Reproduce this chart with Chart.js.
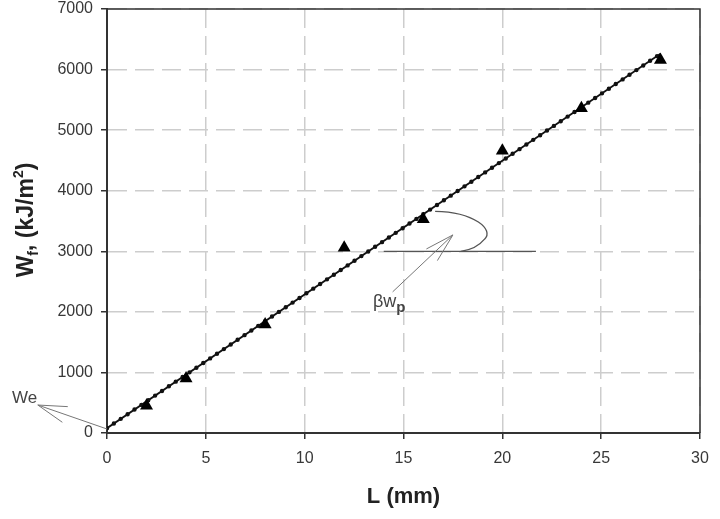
<!DOCTYPE html>
<html>
<head>
<meta charset="utf-8">
<script src="https://cdn.jsdelivr.net/npm/chart.js@4.4.0/dist/chart.umd.min.js"></script>
<style>
  html, body { margin: 0; padding: 0; background: #fff; }
  #wrap { width: 720px; height: 519px; }
</style>
</head>
<body>
<div id="wrap"><canvas id="chart"></canvas></div>
<script>
// measured points: crack length L (mm) vs specific work of fracture
const lengths = [2, 4, 8, 12, 16, 20, 24, 28];
const workValues = [450, 900, 1790, 3060, 3530, 4660, 5360, 6160];

// linear fit end points
const fitX = [0, 28];
const fitY = [80, 6260];

const xTicks = [0, 5, 10, 15, 20, 25, 30];
const yTicks = [0, 1000, 2000, 3000, 4000, 5000, 6000, 7000];

const font = "'Liberation Sans', Arial, sans-serif";
const tickColor = '#383838';

const points = lengths.map((x, i) => ({ x, y: workValues[i] }));
const fitLine = fitX.map((x, i) => ({ x, y: fitY[i] }));

function arrow(ctx, x1, y1, x2, y2, len, spread) {
  // open arrow head at (x2, y2)
  const a = Math.atan2(y1 - y2, x1 - x2);
  ctx.beginPath();
  ctx.moveTo(x1, y1);
  ctx.lineTo(x2, y2);
  ctx.moveTo(x2 + len * Math.cos(a + spread), y2 + len * Math.sin(a + spread));
  ctx.lineTo(x2, y2);
  ctx.lineTo(x2 + len * Math.cos(a - spread), y2 + len * Math.sin(a - spread));
  ctx.stroke();
}

const extras = {
  id: 'extras',
  beforeDatasetsDraw(chart) {
    const { ctx, chartArea: a } = chart;
    ctx.save();
    ctx.strokeStyle = '#333';
    ctx.lineWidth = 1.5;
    ctx.beginPath();
    ctx.moveTo(a.left, a.top);
    ctx.lineTo(a.right, a.top);
    ctx.lineTo(a.right, a.bottom);
    ctx.stroke();
    ctx.restore();
  },
  afterDraw(chart) {
    const { ctx } = chart;
    const xs = chart.scales.x, ys = chart.scales.y;
    const px = v => xs.getPixelForValue(v);
    const py = v => ys.getPixelForValue(v);
    ctx.save();

    // reference line and angle arc for the slope
    ctx.strokeStyle = '#555';
    ctx.lineWidth = 1.3;
    ctx.beginPath();
    ctx.moveTo(px(14), py(3000));
    ctx.lineTo(px(21.7), py(3000));
    ctx.stroke();
    ctx.beginPath();
    ctx.moveTo(px(16.6), py(3660));
    ctx.bezierCurveTo(px(18.6), py(3650), px(19.6), py(3350), px(19.1), py(3200));
    ctx.bezierCurveTo(px(18.8), py(3080), px(18.4), py(3020), px(17.9), py(3000));
    ctx.stroke();

    // arrows
    ctx.strokeStyle = '#777';
    ctx.lineWidth = 1;
    arrow(ctx, px(14.45), py(2330), px(17.5), py(3270), 30, 0.27);
    arrow(ctx, px(0), py(66), px(-3.5), py(462), 30, 0.28);

    // labels
    ctx.fillStyle = '#444';
    ctx.textBaseline = 'alphabetic';
    ctx.font = '17px ' + font;
    ctx.fillText('We', 12, 403);
    ctx.font = '18px ' + font;
    ctx.fillText('\u03b2w', 373, 307);
    const bw = ctx.measureText('\u03b2w').width;
    ctx.font = 'bold 15px ' + font;
    ctx.fillText('p', 373 + bw, 312);

    // y axis title with sub/superscript
    const parts = [
      ['W', 'bold 23px', 0],
      ['f', 'bold 14px', 5],
      [', (kJ/m', 'bold 23px', 0],
      ['2', 'bold 14px', -10],
      [')', 'bold 23px', 0]
    ];
    let total = 0;
    parts.forEach(p => { ctx.font = p[1] + ' ' + font; total += ctx.measureText(p[0]).width; });
    ctx.translate(33, 220);
    ctx.rotate(-Math.PI / 2);
    ctx.fillStyle = '#222';
    let x = -total / 2;
    parts.forEach(p => {
      ctx.font = p[1] + ' ' + font;
      ctx.fillText(p[0], x, p[2]);
      x += ctx.measureText(p[0]).width;
    });
    ctx.restore();
  }
};

new Chart(document.getElementById('chart'), {
  type: 'scatter',
  data: {
    datasets: [
      {
        label: 'fit',
        data: fitLine,
        showLine: true,
        borderColor: '#111',
        borderWidth: 1.8,
        pointRadius: 0,
        order: 3
      },
      {
        label: 'fit dots',
        data: fitLine,
        showLine: true,
        borderColor: '#111',
        borderWidth: 4.4,
        borderDash: [0, 8.3],
        borderCapStyle: 'round',
        pointRadius: 0,
        order: 2
      },
      {
        label: 'data',
        data: points,
        pointStyle: 'triangle',
        pointRadius: 7.5,
        backgroundColor: '#000',
        borderColor: '#000',
        borderWidth: 0,
        order: 1
      }
    ]
  },
  options: {
    responsive: true,
    maintainAspectRatio: false,
    animation: false,
    layout: { padding: { left: 0, right: 20, top: 9, bottom: 0 } },
    plugins: { legend: { display: false }, tooltip: { enabled: false } },
    scales: {
      x: {
        type: 'linear',
        min: 0,
        max: 30,
        afterBuildTicks: s => { s.ticks = xTicks.map(v => ({ value: v })); },
        afterFit: s => { s.height = 86; s.paddingRight = 0; s.paddingLeft = 0; },
        grid: { color: '#cdcdcd', lineWidth: 1.5, tickColor: '#333', tickLength: 6, tickWidth: 1.5, tickBorderDash: [] },
        border: { color: '#333', width: 2, dash: [19, 8] },
        ticks: { color: tickColor, font: { family: font, size: 16 }, padding: 10, maxRotation: 0, callback: v => String(v) },
        title: { display: true, text: 'L (mm)', color: '#222', font: { family: font, size: 22, weight: 'bold' }, padding: { top: 0, bottom: 9 } }
      },
      y: {
        type: 'linear',
        min: 0,
        max: 7000,
        afterBuildTicks: s => { s.ticks = yTicks.map(v => ({ value: v })); },
        afterFit: s => { s.width = 107; s.paddingTop = 0; s.paddingBottom = 0; },
        grid: { color: '#cdcdcd', lineWidth: 1.5, tickColor: '#333', tickLength: 6, tickWidth: 1.5, tickBorderDash: [] },
        border: { color: '#333', width: 2, dash: [19, 8] },
        ticks: { color: tickColor, font: { family: font, size: 16 }, padding: 8, callback: v => String(v) }
      }
    }
  },
  plugins: [extras]
});
</script>
</body>
</html>
